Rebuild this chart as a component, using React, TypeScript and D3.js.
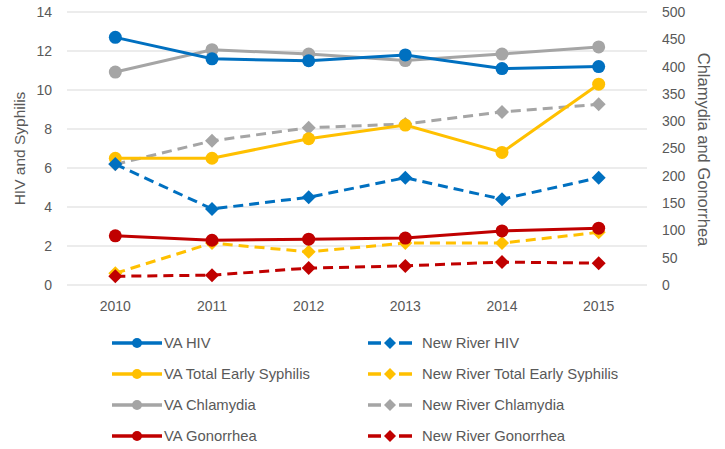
import React from "react";
import * as d3 from "d3";

const years = ["2010", "2011", "2012", "2013", "2014", "2015"];
const leftTicks = [0, 2, 4, 6, 8, 10, 12, 14];
const rightTicks = [0, 50, 100, 150, 200, 250, 300, 350, 400, 450, 500];

const vaHIV = [12.7, 11.6, 11.5, 11.8, 11.1, 11.2];
const nrHIV = [6.2, 3.9, 4.5, 5.5, 4.4, 5.5];
const vaSyph = [6.5, 6.5, 7.5, 8.2, 6.8, 10.3];
const nrSyph = [0.6, 2.15, 1.7, 2.15, 2.15, 2.7];
const vaChlam = [390, 431, 423, 411, 423, 436];
const nrChlam = [221, 264, 288, 295, 317, 331];
const vaGon = [90, 82, 84, 86, 99, 104];
const nrGon = [16, 18, 31, 35, 42, 40];

type S = { name: string; values: number[]; axis: "L" | "R"; color: string; dashed: boolean };
const series: S[] = [
  { name: "VA Chlamydia", values: vaChlam, axis: "R", color: "#A5A5A5", dashed: false },
  { name: "New River Chlamydia", values: nrChlam, axis: "R", color: "#A5A5A5", dashed: true },
  { name: "VA Total Early Syphilis", values: vaSyph, axis: "L", color: "#FFC000", dashed: false },
  { name: "New River Total Early Syphilis", values: nrSyph, axis: "L", color: "#FFC000", dashed: true },
  { name: "VA Gonorrhea", values: vaGon, axis: "R", color: "#C00000", dashed: false },
  { name: "New River Gonorrhea", values: nrGon, axis: "R", color: "#C00000", dashed: true },
  { name: "New River HIV", values: nrHIV, axis: "L", color: "#0070C0", dashed: true },
  { name: "VA HIV", values: vaHIV, axis: "L", color: "#0070C0", dashed: false },
];
const legendOrder = [
  ["VA HIV", "New River HIV"],
  ["VA Total Early Syphilis", "New River Total Early Syphilis"],
  ["VA Chlamydia", "New River Chlamydia"],
  ["VA Gonorrhea", "New River Gonorrhea"],
];

const W = 725, H = 449;
const plotL = 67, plotR = 647, plotT = 12, plotB = 285;
const FONT = "'Liberation Sans', Arial, sans-serif";
const TXT = "#595959";

function Marker({ x, y, color, dashed, small }: { x: number; y: number; color: string; dashed: boolean; small?: boolean }) {
  if (dashed) {
    const r = small ? 6 : 7;
    return <path d={`M${x},${y - r}L${x + r},${y}L${x},${y + r}L${x - r},${y}Z`} fill={color} />;
  }
  return <circle cx={x} cy={y} r={small ? 5 : 6.5} fill={color} />;
}

export default function App() {
  const x = d3.scaleBand().domain(years).range([plotL, plotR]);
  const yL = d3.scaleLinear().domain([0, 14]).range([plotB, plotT]);
  const yR = d3.scaleLinear().domain([0, 500]).range([plotB, plotT]);
  const cx = (yr: string) => (x(yr) as number) + x.bandwidth() / 2;

  return (
    <svg width={W} height={H} style={{ position: "absolute", left: 0, top: 0, background: "#fff" }} fontFamily={FONT}>
      <rect width={W} height={H} fill="#fff" />
      {leftTicks.map((t) => (
        <g key={"l" + t}>
          <line x1={plotL} x2={plotR} y1={yL(t)} y2={yL(t)} stroke="#D9D9D9" strokeWidth={1} />
          <text x={52} y={yL(t)} dy="0.35em" textAnchor="end" fontSize={14} fill={TXT}>{t}</text>
        </g>
      ))}
      {rightTicks.map((t) => (
        <text key={"r" + t} x={662} y={yR(t)} dy="0.35em" textAnchor="start" fontSize={14} fill={TXT}>{t}</text>
      ))}
      {years.map((yr) => (
        <text key={yr} x={cx(yr)} y={306} dy="0.35em" textAnchor="middle" fontSize={14} fill={TXT}>{yr}</text>
      ))}
      <text transform={`translate(20,${(plotT + plotB) / 2}) rotate(-90)`} textAnchor="middle" dy="0.35em" fontSize={15.5} fill={TXT}>HIV and Syphilis</text>
      <text transform={`translate(704,${(plotT + plotB) / 2 + 1}) rotate(90)`} textAnchor="middle" dy="0.35em" fontSize={16.5} fill={TXT}>Chlamydia and Gonorrhea</text>

      {series.map((s) => {
        const sc = s.axis === "L" ? yL : yR;
        const line = d3.line<number>().x((_, i) => cx(years[i])).y((v) => sc(v));
        return (
          <g key={s.name}>
            <path d={line(s.values) || ""} fill="none" stroke={s.color} strokeWidth={3} strokeDasharray={s.dashed ? "10,6" : undefined} />
            {s.values.map((v, i) => (
              <Marker key={i} x={cx(years[i])} y={sc(v)} color={s.color} dashed={s.dashed} />
            ))}
          </g>
        );
      })}

      {legendOrder.map((row, ri) =>
        row.map((name, ci) => {
          const s = series.find((d) => d.name === name)!;
          const y = 343 + ri * 31;
          const x0 = ci === 0 ? 112 : 368;
          const x1 = ci === 0 ? 162 : 412;
          const tx = ci === 0 ? 164 : 422;
          return (
            <g key={name}>
              <line x1={x0} x2={x1} y1={y} y2={y} stroke={s.color} strokeWidth={3.5} strokeDasharray={s.dashed ? "13,18,13" : undefined} />
              <Marker x={(x0 + x1) / 2} y={y} color={s.color} dashed={s.dashed} small />
              <text x={tx} y={y} dy="0.35em" fontSize={14.8} fill={TXT}>{name}</text>
            </g>
          );
        })
      )}
    </svg>
  );
}
